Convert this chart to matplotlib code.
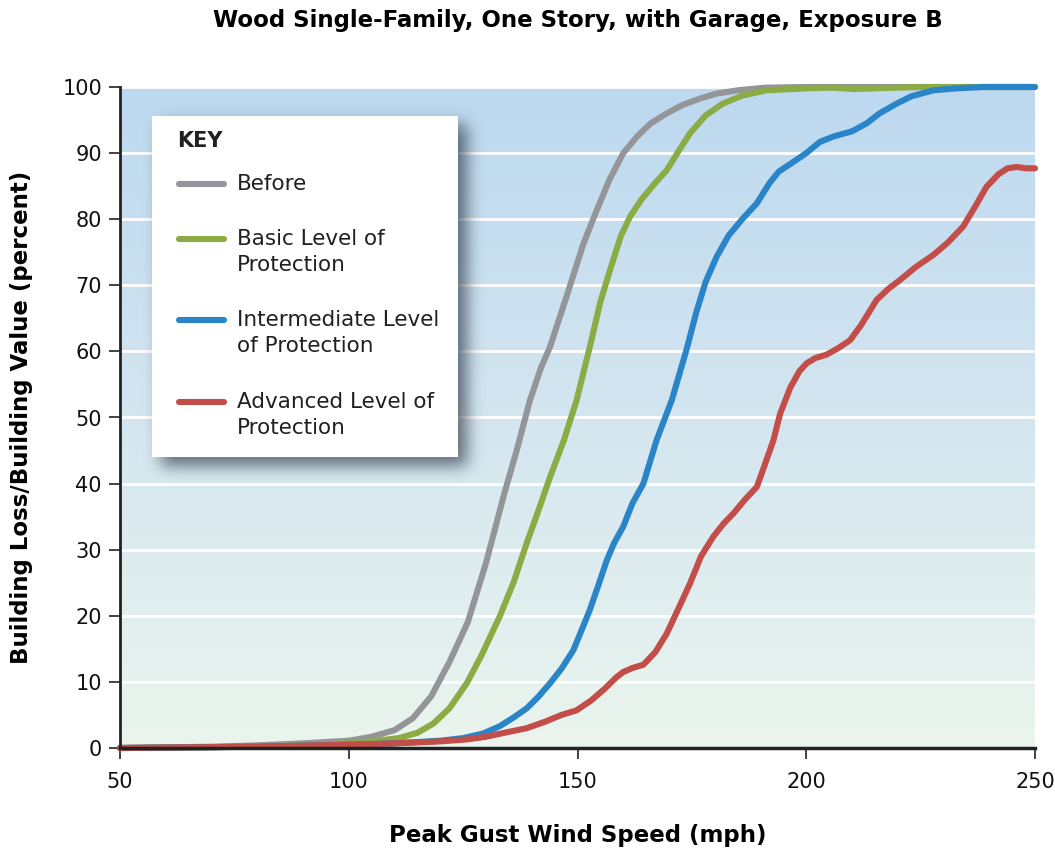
import numpy as np
import matplotlib
matplotlib.use('Agg')
import matplotlib.pyplot as plt
from matplotlib.patches import Rectangle

plt.rcParams['font.family'] = ['DejaVu Sans']

# ---- data (mph -> percent loss) ----
before_x = [50, 60, 70, 80, 90, 100, 105, 110, 114, 118, 122, 126, 130, 134, 136.7, 139.6,
            142, 144, 147.6, 151.3, 154, 157, 160, 163, 166, 169.5, 173, 177, 180.4,
            185, 191, 200, 250]
before_y = [0, 0.1, 0.2, 0.4, 0.7, 1.1, 1.7, 2.7, 4.5, 7.8, 13, 19, 28, 38.5, 45, 52.6,
            57.5, 60.7, 68.3, 76.3, 81, 86, 90, 92.5, 94.5, 96, 97.3, 98.3, 99,
            99.5, 99.9, 100, 100]

basic_x = [50, 70, 90, 100, 105, 111, 115, 118.5, 122, 125.8, 129, 133, 136, 138.9, 141.5,
           144, 147, 149.8, 152.7, 155, 157.1, 159.5, 161.5, 164, 167, 169.5, 172, 174.6,
           178, 181.8, 186, 191.3, 200, 206, 210, 215, 225, 250]
basic_y = [0, 0.1, 0.4, 0.7, 1.0, 1.5, 2.3, 3.7, 6, 9.8, 14, 19.9, 25, 31, 36,
           41, 46.5, 52.6, 60.7, 67.5, 72.3, 77.5, 80.4, 83, 85.5, 87.4, 90.2, 93,
           95.7, 97.5, 98.7, 99.5, 99.8, 99.9, 99.7, 99.8, 100, 100]

inter_x = [50, 80, 100, 110, 120, 125, 129.4, 133, 136, 138.9, 141.5, 144, 146.5, 149.1,
           151, 152.7, 154.5, 156.4, 158, 160, 162, 164.4, 167.3, 170.6, 173.8, 176, 178,
           180.4, 183, 186, 189.2, 192, 194, 196.4, 200, 203, 205.9, 210, 213.2, 216,
           219.8, 223, 227.8, 233, 238.7, 250]
inter_y = [0, 0.2, 0.5, 0.7, 1.1, 1.5, 2.2, 3.3, 4.6, 6, 7.8, 9.8, 12, 14.8,
           18, 20.9, 24.5, 28.4, 31, 33.5, 37, 40, 46.6, 52.6, 60.2, 66, 70.5,
           74.3, 77.5, 80, 82.4, 85.5, 87.2, 88.3, 90, 91.7, 92.5, 93.3, 94.5, 96,
           97.5, 98.6, 99.5, 99.8, 100, 100]

adv_x = [50, 80, 100, 110, 120, 125.8, 130, 134, 138.9, 143, 146.5, 149.8, 153, 156, 158.5,
         160, 162, 164.4, 167, 169.5, 172, 174.6, 177, 179.7, 182, 184.1, 186.5, 189.2,
         190.5, 192.8, 194.3, 196.5, 198.5, 200.1, 202, 204.4, 207, 209.6, 212, 215.4,
         218, 220.5, 224, 227.8, 231, 234.3, 237, 239.4, 242, 244, 246, 248, 250]
adv_y = [0, 0.2, 0.5, 0.7, 1.0, 1.3, 1.7, 2.3, 3.0, 4.0, 5.0, 5.7, 7.2, 9, 10.7,
         11.5, 12.1, 12.6, 14.5, 17.3, 21, 24.9, 29, 32, 34, 35.5, 37.5, 39.5,
         42, 46.5, 50.6, 54.5, 57, 58.2, 59, 59.5, 60.5, 61.7, 64, 67.8,
         69.5, 70.8, 72.8, 74.6, 76.5, 78.9, 82, 84.9, 86.8, 87.7, 87.9, 87.7, 87.7]

series = [
    ("Before", before_x, before_y, "#939598"),
    ("Basic Level of\nProtection", basic_x, basic_y, "#8bac45"),
    ("Intermediate Level\nof Protection", inter_x, inter_y, "#2a85c8"),
    ("Advanced Level of\nProtection", adv_x, adv_y, "#c24d49"),
]

xticks = [50, 100, 150, 200, 250]
yticks = list(range(0, 101, 10))

W, H = 1055, 855
fig = plt.figure(figsize=(W / 100, H / 100), dpi=100)
ax_l, ax_b, ax_w, ax_h = 120, 748, 915, 661
ax = fig.add_axes([ax_l / W, 1 - ax_b / H, ax_w / W, ax_h / H])

# background gradient, blue at top to pale green at bottom
top = np.array([0.74, 0.85, 0.94])
mid = np.array([0.83, 0.90, 0.94])
bot = np.array([0.92, 0.96, 0.93])
t = np.linspace(0, 1, 256)[:, None]
grad = np.where(t < 0.5, top + (mid - top) * (t / 0.5), mid + (bot - mid) * ((t - 0.5) / 0.5))
ax.imshow(grad[:, None, :], extent=[0, 1, 0, 1], transform=ax.transAxes,
          aspect='auto', zorder=0)

for yv in yticks[1:]:
    ax.axhline(yv, color='white', lw=2, zorder=1)

for label, xs, ys, c in series:
    ax.plot(xs, ys, color=c, lw=4.4, solid_capstyle='round', solid_joinstyle='round',
            zorder=3, clip_on=False)

ax.set_xlim(50, 250)
ax.set_ylim(0, 100)
ax.set_xticks(xticks)
ax.set_yticks(yticks)
ax.tick_params(direction='out', length=8, width=1.2, labelsize=15, color='#222222',
               labelcolor='#111111')
ax.tick_params(axis='x', pad=9)
ax.tick_params(axis='y', pad=5)
for s in ['top', 'right']:
    ax.spines[s].set_visible(False)
ax.spines['left'].set_linewidth(2)
ax.spines['bottom'].set_linewidth(2.5)
ax.spines['left'].set_color('#222222')
ax.spines['bottom'].set_color('#222222')
ax.spines['left'].set_zorder(4)
ax.spines['bottom'].set_zorder(4)

ax.set_xlabel('Peak Gust Wind Speed (mph)', fontsize=16.5, fontweight='bold', va='center')
ax.xaxis.set_label_coords(0.5, (ax_b - 835) / ax_h)
ax.set_ylabel('Building Loss/Building Value (percent)', fontsize=16.5, fontweight='bold',
              va='center')
ax.yaxis.set_label_coords((22 - ax_l) / ax_w, 0.5)
fig.text((ax_l + ax_w / 2) / W, 1 - 20 / H,
         'Wood Single-Family, One Story, with Garage, Exposure B',
         ha='center', va='center', fontsize=16.5, fontweight='bold')

# ---- key box with soft shadow (pixel layout -> axes coords) ----
def ax_xy(px, py):
    return (px - ax_l) / ax_w, (ax_b - py) / ax_h

bx0, by0, bx1, by1 = 152, 116, 458, 457
pad = 40
sx0, sy0, sx1, sy1 = bx0 - pad, by0 - pad, bx1 + pad, by1 + pad
gw, gh = sx1 - sx0, sy1 - sy0
mask = np.zeros((gh, gw))
off = 9
mask[by0 - sy0 + off:by1 - sy0 + off, bx0 - sx0 + off:bx1 - sx0 + off] = 1.0
k = np.exp(-0.5 * (np.arange(-24, 25) / 8.0) ** 2)
k /= k.sum()
mask = np.apply_along_axis(lambda r: np.convolve(r, k, mode='same'), 1, mask)
mask = np.apply_along_axis(lambda c: np.convolve(c, k, mode='same'), 0, mask)
shadow = np.zeros((gh, gw, 4))
shadow[..., 0] = 0.22
shadow[..., 1] = 0.27
shadow[..., 2] = 0.32
shadow[..., 3] = mask * 0.75
ex0, ey0 = ax_xy(sx0, sy1)
ex1, ey1 = ax_xy(sx1, sy0)
ax.imshow(shadow, extent=[ex0, ex1, ey0, ey1], transform=ax.transAxes,
          aspect='auto', zorder=5, interpolation='bilinear')

rx0, ry0 = ax_xy(bx0, by1)
rx1, ry1 = ax_xy(bx1, by0)
ax.add_patch(Rectangle((rx0, ry0), rx1 - rx0, ry1 - ry0, transform=ax.transAxes,
                       facecolor='white', edgecolor='none', zorder=6))

kx, ky = ax_xy(177, 141)
ax.text(kx, ky, 'KEY', transform=ax.transAxes, fontsize=15, fontweight='bold',
        color='#231f20', va='center', ha='left', zorder=7)
entry_y = [184, 252, 333, 415]
for (label, xs, ys, c), py in zip(series, entry_y):
    n_lines = label.count('\n') + 1
    first = py - 13 * (n_lines - 1)
    hx0, hy = ax_xy(179, first)
    hx1, _ = ax_xy(224, first)
    ax.plot([hx0, hx1], [hy, hy], transform=ax.transAxes, color=c, lw=4.4,
            solid_capstyle='round', zorder=7, clip_on=False)
    tx, ty = ax_xy(237, py)
    ax.text(tx, ty, label, transform=ax.transAxes, fontsize=15.5, color='#231f20',
            va='center', ha='left', linespacing=1.36, zorder=7)

fig.savefig('out.png', dpi=100)
